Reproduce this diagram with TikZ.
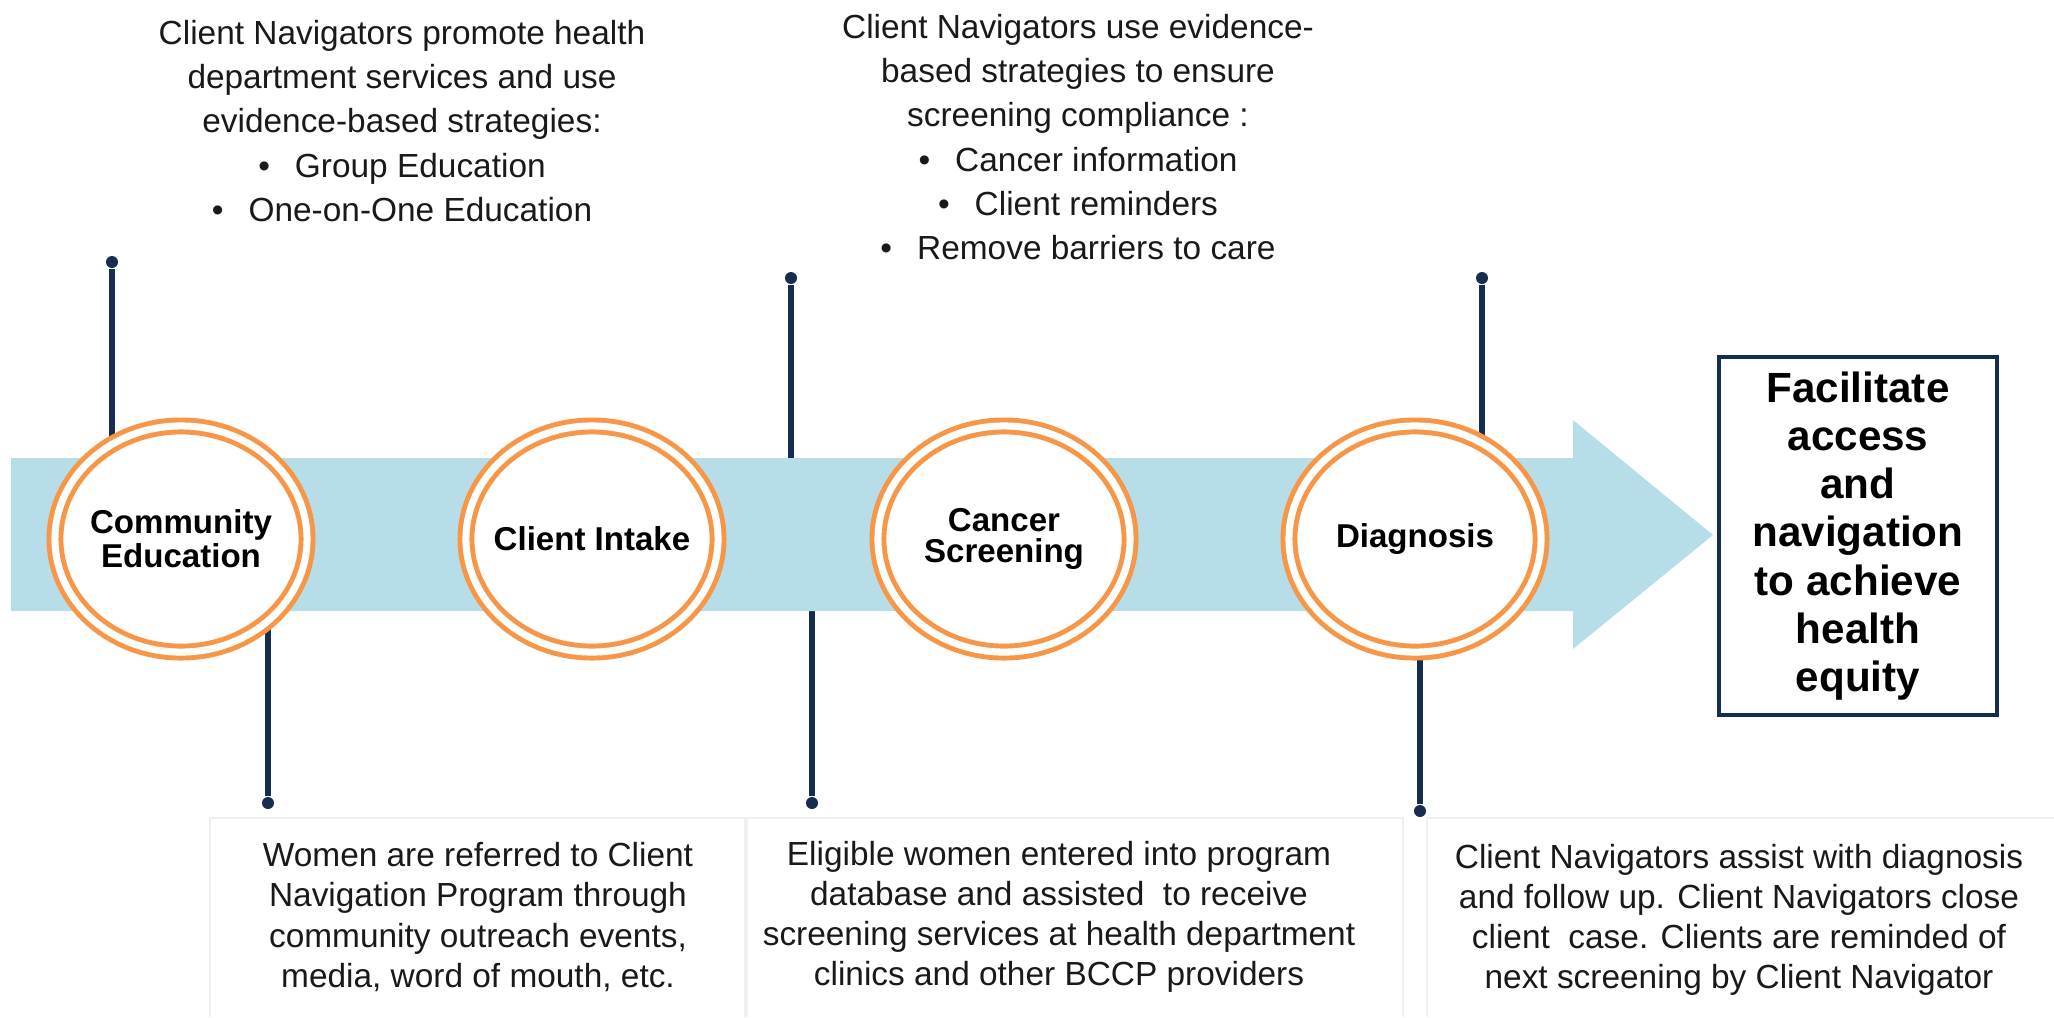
\documentclass[tikz,border=0pt]{standalone}
\usepackage{fontspec}
\setmainfont{Liberation Sans}
\usetikzlibrary{shapes,positioning}
\definecolor{bandblue}{RGB}{183,222,232}
\definecolor{ringorange}{RGB}{247,150,70}
\definecolor{navy}{RGB}{23,45,80}

\begin{document}
\begin{tikzpicture}[x=0.01cm,y=-0.01cm,
    ring/.style={ellipse, draw=ringorange, line width=1.4pt, double=white, double distance=2pt, fill=white, minimum width=2.52cm, minimum height=2.26cm},
    ringtxt/.style={font=\fontsize{9.4}{8.6}\selectfont\bfseries, align=center, text=black},
    note/.style={font=\fontsize{9.5}{11.4}\selectfont, align=center, text=black!90},
    topnote/.style={font=\fontsize{9.5}{12.6}\selectfont, align=center, text=black!90},
    stem/.style={draw=navy, line width=1.7pt},
    knob/.style={circle, fill=navy, minimum size=0.12cm},
    goalbox/.style={draw=navy, line width=1.15pt, minimum width=2.77cm, minimum height=3.57cm, font=\fontsize{12}{13.7}\selectfont\bfseries, align=center},
    panel/.style={draw=black!6, line width=0.6pt}]
                \tikzstyle{every node}+=[inner sep=0pt]
                \useasboundingbox (0,0) rectangle (2054,1017);
                \draw [panel] (210,1017) -- (210,818) -- (745,818) -- (745,1017);
                \draw [panel] (747,1017) -- (747,818) -- (1403,818) -- (1403,1017);
                \draw [panel] (1427,1017) -- (1427,818) -- (2054,818);
                \coordinate (c1) at (181,539);
                \coordinate (c2) at (592,539);
                \coordinate (c3) at (1004,539);
                \coordinate (c4) at (1415,539);
                \node [knob] (k1) at (112,262) {};
                \node [knob] (k2) at (268,803) {};
                \node [knob] (k3) at (791,278) {};
                \node [knob] (k4) at (812,803) {};
                \node [knob] (k5) at (1482,278) {};
                \node [knob] (k6) at (1420,811) {};
                \draw [stem] (k1) -- (k1 |- c1);
                \draw [stem] (k2) -- (k2 |- c1);
                \draw [stem] (k3) -- (k3 |- c2);
                \draw [stem] (k4) -- (k4 |- c2);
                \draw [stem] (k5) -- (k5 |- c4);
                \draw [stem] (k6) -- (k6 |- c4);
                \fill [bandblue] (11,458) -- (1573,458) -- (1573,420) -- (1713,535) -- (1573,649) -- (1573,611) -- (11,611) -- cycle;
                \node [ring, label={[ringtxt,name=commlbl]center:Community\\Education}] (comm) at (c1) {};
                \node [ring, label={[ringtxt,name=intakelbl]center:Client Intake}] (intake) at (c2) {};
                \node [ring, label={[ringtxt,name=screenlbl]center:Cancer\\Screening}] (screen) at (c3) {};
                \node [ring, label={[ringtxt,name=diaglbl]center:Diagnosis}] (diag) at (c4) {};
                \node [goalbox] (goal) at (1858,536) {Facilitate\\access\\and\\navigation\\to achieve\\health\\equity};
                \node [topnote] (edutxt) at (402,121) {Client Navigators promote health\\department services and use\\evidence-based strategies:\\\textbullet\hspace{0.75em}Group Education\\\textbullet\hspace{0.75em}One-on-One Education};
                \node [topnote] (compltxt) at (1078,137) {Client Navigators use evidence-\\based strategies to ensure\\screening compliance :\\\textbullet\hspace{0.75em}Cancer information\\\textbullet\hspace{0.75em}Client reminders\\\textbullet\hspace{0.75em}Remove barriers to care};
                \node [note] (intaketxt) at (478,917) {Women are referred to Client\\Navigation Program through\\community outreach events,\\media, word of mouth, etc.};
                \node [note] (enrolltxt) at (1059,917) {Eligible women entered into program\\database and assisted\ \ to receive\\screening services at health department\\clinics and other BCCP providers};
                \node [note] (diagtxt) at (1739,920) {Client Navigators assist with diagnosis\\and follow up. Client Navigators close\\client\ \ case. Clients are reminded of\\next screening by Client Navigator};
\end{tikzpicture}
\end{document}
